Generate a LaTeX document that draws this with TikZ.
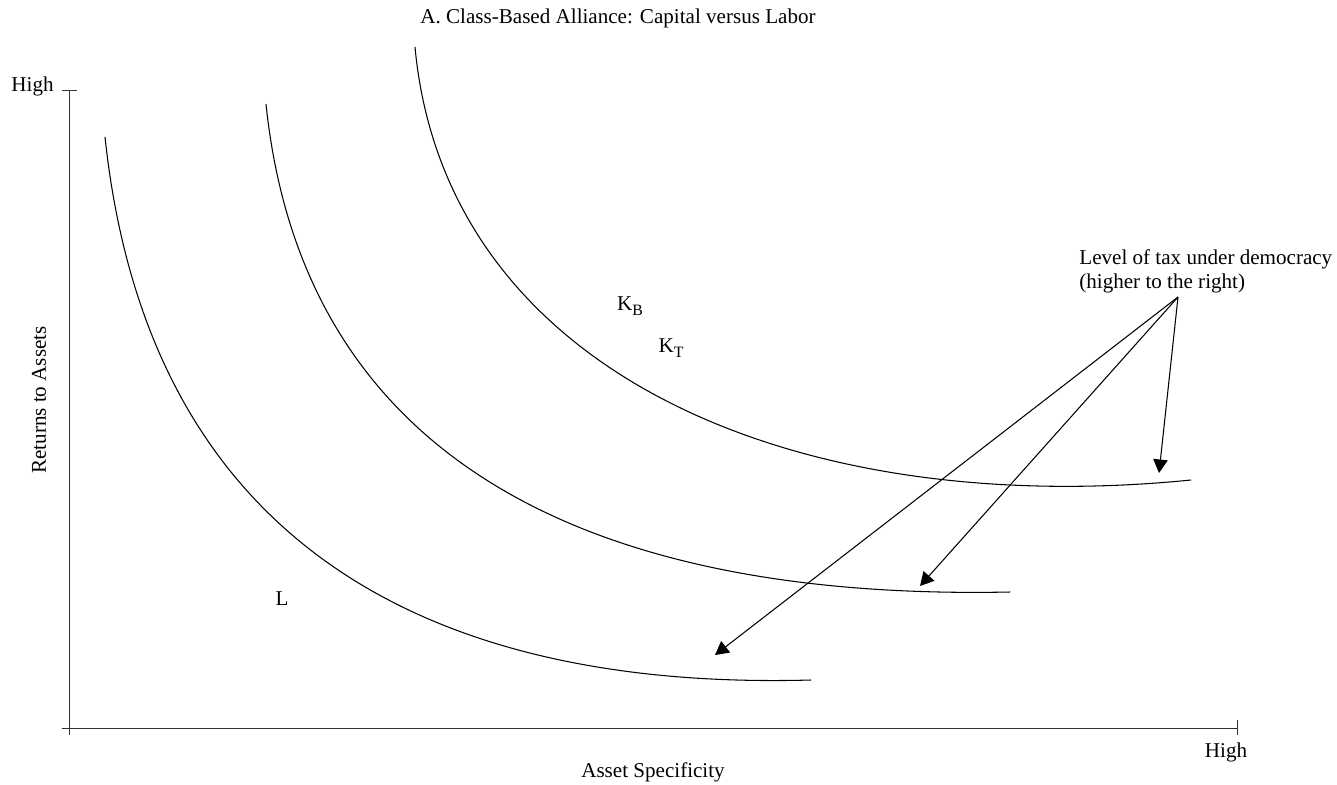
\documentclass[tikz,border=0pt]{standalone}
\usepackage{fontspec}
\setmainfont{Liberation Serif}
\usepackage{tikz}
\usetikzlibrary{arrows.meta,positioning}
\definecolor{ink}{RGB}{0,0,0}
\tikzset{
  lbl/.style={font=\fontsize{12}{14}\selectfont,text=ink,inner sep=0pt},
  axis/.style={line width=0.5pt,ink!80},
  curve/.style={line width=0.6pt,ink},
  arr/.style={-{Triangle[length=2.7mm,width=2.9mm]},line width=0.6pt,ink},
}
\newcommand{\subk}[1]{K\raisebox{-0.45ex}{\fontsize{9}{10}\selectfont #1}}
\begin{document}
\begin{tikzpicture}[x=0.02cm,y=-0.02cm]
  \useasboundingbox (0,0) rectangle (1337,784);
  % axes
  \draw[axis] (69,735) -- (69,90);
  \draw[axis] (62,90) -- (77,90);
  \draw[axis] (62,728) -- (1237,728);
  \draw[axis] (1237,720) -- (1237,735);
  \node[lbl] (title) at (618,18) {A. Class-Based Alliance: Capital versus Labor};
  \node[lbl,anchor=east] (yhigh) at (54,86) {High};
  \node[lbl] (xhigh) at (1226,752) {High};
  \node[lbl] (xlab) at (653,772) {Asset Specificity};
  \node[lbl,rotate=90] (ylab) at (39,400) {Returns to Assets};
  % iso-tax curves
  \draw[curve] (105,137) .. controls (150,560) and (450,690) .. (811,680);
  \draw[curve] (266,104) .. controls (305,480) and (620,600) .. (1010,592);
  \draw[curve] (415,47) .. controls (445,370) and (790,520) .. (1191,480);
  \node[lbl] (kb) at (630,306) {\subk{B}};
  \node[lbl] (kt) at (671,348) {\subk{T}};
  \node[lbl] (lab) at (282,599) {L};
  % note and arrows
  \node[lbl,anchor=north west,align=left] (note) at (1079,249)
    {Level of tax under democracy\\(higher to the right)};
  \coordinate (src) at (1178,297);
  \coordinate (t1) at (715,655);
  \coordinate (t2) at (920,586);
  \coordinate (t3) at (1159,473);
  \draw[arr] (src) -- (t1);
  \draw[arr] (src) -- (t2);
  \draw[arr] (src) -- (t3);
\end{tikzpicture}
\end{document}
